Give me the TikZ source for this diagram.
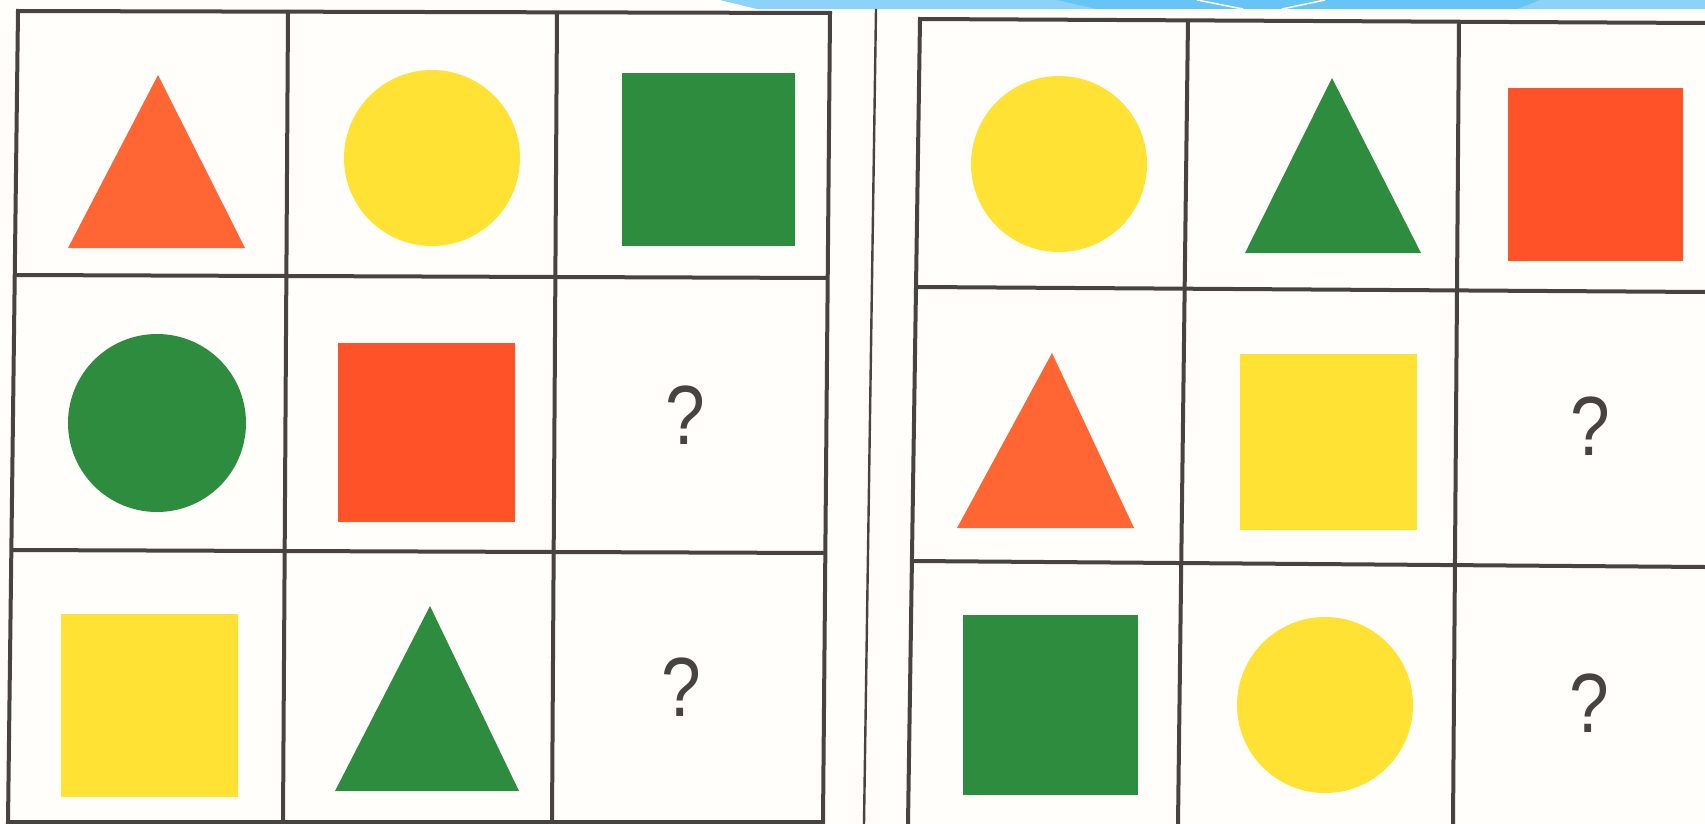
\documentclass[tikz,border=0pt]{standalone}
\usepackage{fontspec}
\setsansfont{Liberation Sans}
\usepackage{tikz}
\definecolor{paper}{RGB}{255, 254, 250}
\definecolor{barblue}{RGB}{140, 210, 250}
\definecolor{barmid}{RGB}{102, 196, 246}
\definecolor{gridline}{RGB}{72, 66, 64}
\definecolor{shapeorange}{RGB}{255, 102, 52}
\definecolor{shapered}{RGB}{255, 82, 40}
\definecolor{shapeyellow}{RGB}{255, 226, 52}
\definecolor{shapegreen}{RGB}{46, 140, 62}
\tikzstyle{cellline} = [draw=gridline, line width=4pt]
\tikzstyle{missing} = [inner sep=0pt, text=gridline, font=\sffamily\fontsize{84}{84}\selectfont]

\begin{document}
\begin{tikzpicture}[x=1pt, y=-1pt]
    \useasboundingbox (0,0) rectangle (1705,824);
    \fill[paper] (0,0) rectangle (1705,824);

    % Top bar
    \fill[barblue] (720,0) -- (1705,0) -- (1705,9) -- (757,9) -- cycle;
    \fill[barmid] (1057,0) -- (1540,0) -- (1517,9) -- (1097,9) -- cycle;
    \draw[white, line width=1.5pt] (1197,0) -- (1243,9) (1325,0) -- (1282,9);

    % Left grid
    \draw[cellline] (18,11) -- (830,13) -- (823,822) -- (8,822) -- cycle;
    \draw[cellline] (288,11) -- (283,822);
    \draw[cellline] (557,12) -- (552,822);
    \draw[cellline] (16,275) -- (828,278);
    \draw[cellline] (12,550) -- (826,553);

    % Separator
    \draw[gridline, line width=2.4pt] (876,9) -- (864,824);

    % Right grid
    \draw[cellline] (908,824) -- (920,19) -- (1705,23);
    \draw[cellline] (1188,19) -- (1178,824);
    \draw[cellline] (1459,21) -- (1453,824);
    \draw[cellline] (918,287) -- (1705,292);
    \draw[cellline] (913,561) -- (1705,567);

    % Left grid shapes
    \fill[shapeorange] (68,248) -- (245,248) -- (158,75) -- cycle;
    \fill[shapeyellow] (432,158) circle (88);
    \fill[shapegreen] (622,73) rectangle (795,246);
    \fill[shapegreen] (157,423) circle (89);
    \fill[shapered] (338,343) rectangle (515,522);
    \fill[shapeyellow] (61,614) rectangle (238,797);
    \fill[shapegreen] (335,791) -- (519,791) -- (430,606) -- cycle;

    % Right grid shapes
    \fill[shapeyellow] (1059,164) circle (88);
    \fill[shapegreen] (1245,253) -- (1421,253) -- (1332,78) -- cycle;
    \fill[shapered] (1508,88) rectangle (1683,261);
    \fill[shapeorange] (957,528) -- (1134,528) -- (1052,353) -- cycle;
    \fill[shapeyellow] (1240,354) rectangle (1417,530);
    \fill[shapegreen] (963,615) rectangle (1138,795);
    \fill[shapeyellow] (1325,705) circle (88);

    % Nodes
    \node (leftq1) [missing, xscale=0.85, transform shape] at (685,415) {?};
    \node (leftq2) [missing, xscale=0.85, transform shape] at (681,687) {?};
    \node (rightq1) [missing, xscale=0.85, transform shape] at (1590,426) {?};
    \node (rightq2) [missing, xscale=0.85, transform shape] at (1589,703) {?};
\end{tikzpicture}
\end{document}
